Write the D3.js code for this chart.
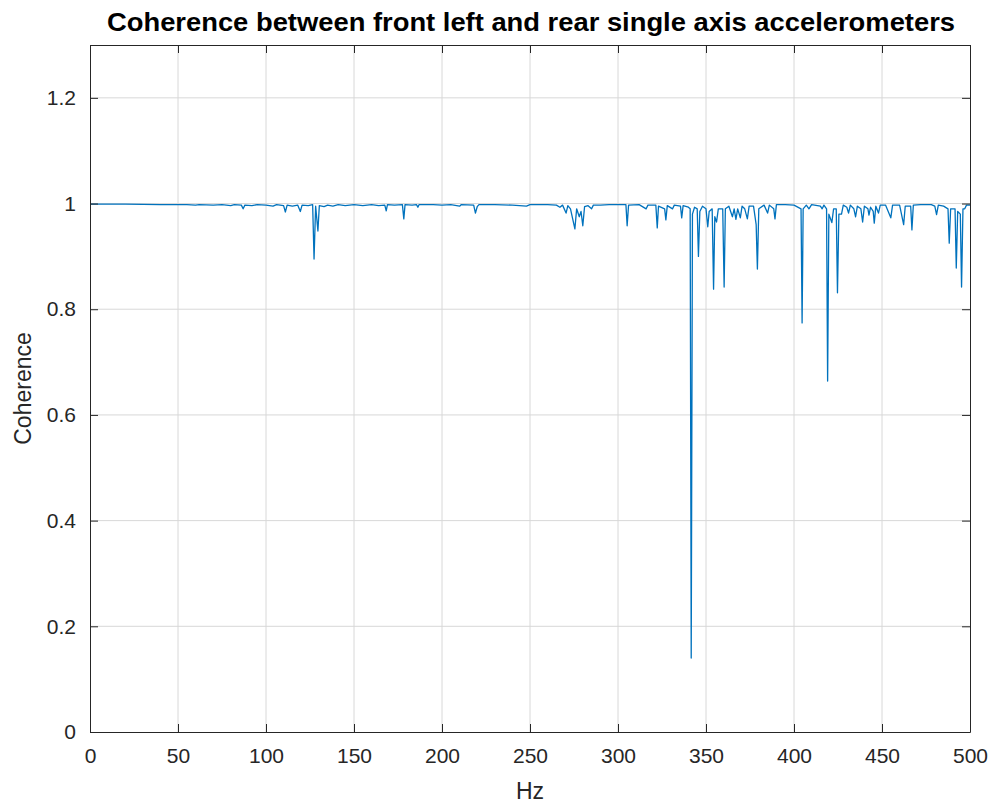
<!DOCTYPE html>
<html>
<head>
<meta charset="utf-8">
<script src="https://cdn.jsdelivr.net/npm/d3@7"></script>
<style>
  body { margin: 0; background: #fff; }
  text { font-family: "Liberation Sans", Arial, sans-serif; }
</style>
</head>
<body>
<div class="canvas"></div>
<script>
// data: frequency (Hz) and coherence
const hz = [
  0, 20, 40, 55, 60, 62, 70, 75, 80, 82, 86, 87, 88, 92, 95, 100, 104, 106, 110, 111,
  112, 115, 118, 119.5, 120.5, 124, 126.5, 127.3, 128.2, 129.5, 130.3, 133, 135, 138, 141, 145, 150, 155, 160, 164,
  167.5, 168.3, 169, 173, 177.5, 178.3, 179, 183, 185.5, 186.3, 187, 195, 200, 205, 210, 211, 218, 219, 220, 221,
  230, 240, 248, 250, 260, 265, 267, 268.5, 270.5, 271.5, 273, 275.5, 276.5, 278, 279, 280, 281, 283, 285, 286,
  290, 295, 304.5, 305.2, 306, 312, 316, 317, 321.5, 322.3, 323, 326.5, 327.2, 328, 331, 332, 335.5, 336.2, 337, 340,
  341, 341.6, 342.3, 343.5, 345, 345.7, 346.5, 348, 350, 351, 351.8, 353.5, 354.3, 355, 356, 357, 359.5, 360.3, 361, 363,
  365, 366, 367, 368, 369.5, 370.5, 372, 373.5, 374.5, 377, 378.5, 379.2, 380, 383, 385, 386, 388.5, 389.2, 390, 395,
  400, 404, 404.6, 405.2, 407, 408.5, 410, 415, 416, 417, 418.5, 419.1, 419.8, 421.5, 422.5, 424, 424.7, 425.5, 427, 428,
  430, 431, 432, 434, 435, 436, 438, 439, 440, 442, 442.6, 443.5, 445, 445.6, 446.5, 448, 449, 452, 455, 456,
  460, 462.3, 463.2, 466.3, 467, 467.8, 472, 478, 480, 481, 482, 485, 487.5, 488.2, 489, 491.5, 492.2, 493, 494.5, 495.2,
  496, 497, 498, 500
];
const coherence = [
  0.999, 0.999, 0.998, 0.998, 0.997, 0.998, 0.997, 0.998, 0.996, 0.998, 0.997, 0.990, 0.997, 0.996, 0.998, 0.997, 0.995, 0.998, 0.996, 0.984,
  0.997, 0.995, 0.997, 0.985, 0.997, 0.996, 0.998, 0.895, 0.995, 0.948, 0.996, 0.994, 0.997, 0.995, 0.998, 0.996, 0.998, 0.996, 0.998, 0.996,
  0.997, 0.986, 0.998, 0.997, 0.998, 0.971, 0.998, 0.997, 0.998, 0.993, 0.998, 0.998, 0.997, 0.998, 0.995, 0.998, 0.997, 0.982, 0.994, 0.998,
  0.998, 0.997, 0.995, 0.998, 0.998, 0.997, 0.993, 0.997, 0.982, 0.996, 0.990, 0.952, 0.990, 0.975, 0.985, 0.958, 0.994, 0.996, 0.990, 0.997,
  0.997, 0.998, 0.998, 0.958, 0.997, 0.998, 0.990, 0.997, 0.997, 0.954, 0.995, 0.990, 0.969, 0.996, 0.990, 0.997, 0.995, 0.973, 0.996, 0.993,
  0.990, 0.140, 0.980, 0.993, 0.990, 0.900, 0.985, 0.995, 0.990, 0.956, 0.985, 0.990, 0.838, 0.975, 0.965, 0.990, 0.990, 0.842, 0.990, 0.995,
  0.975, 0.990, 0.970, 0.990, 0.973, 0.995, 0.990, 0.971, 0.995, 0.995, 0.960, 0.876, 0.990, 0.997, 0.982, 0.997, 0.990, 0.971, 0.998, 0.998,
  0.997, 0.990, 0.774, 0.990, 0.997, 0.990, 0.998, 0.995, 0.990, 0.997, 0.990, 0.664, 0.980, 0.964, 0.990, 0.990, 0.831, 0.980, 0.980, 0.997,
  0.993, 0.982, 0.997, 0.990, 0.975, 0.995, 0.990, 0.965, 0.995, 0.990, 0.978, 0.993, 0.985, 0.963, 0.995, 0.982, 0.997, 0.997, 0.973, 0.997,
  0.997, 0.960, 0.995, 0.995, 0.950, 0.997, 0.998, 0.998, 0.995, 0.979, 0.997, 0.995, 0.990, 0.925, 0.990, 0.990, 0.878, 0.985, 0.980, 0.842,
  0.990, 0.990, 0.997, 0.997
];
const xTicks = [0, 50, 100, 150, 200, 250, 300, 350, 400, 450, 500];
const yTicks = [0, 0.2, 0.4, 0.6, 0.8, 1, 1.2];

const data = hz.map((f, i) => ({hz: f, c: coherence[i]}));

const width = 993;
const height = 806;
const margin = {top: 45, right: 23, bottom: 74, left: 90};
const graphWidth = width - margin.left - margin.right;
const graphHeight = height - margin.top - margin.bottom;
const ink = '#262626';

const svg = d3.select('.canvas')
  .append('svg')
  .attr('width', width)
  .attr('height', height);

const graph = svg.append('g')
  .attr('transform', `translate(${margin.left},${margin.top})`);

const x = d3.scaleLinear().domain([0, 500]).range([0, graphWidth]);
const y = d3.scaleLinear().domain([0, 1.3]).range([graphHeight, 0]);

// grid
graph.append('g')
  .selectAll('line.vx')
  .data(xTicks.slice(1, -1))
  .enter().append('line')
  .attr('x1', d => x(d)).attr('x2', d => x(d))
  .attr('y1', 0).attr('y2', graphHeight)
  .attr('stroke', '#d8d8d8').attr('stroke-width', 1);

graph.append('g')
  .selectAll('line.hy')
  .data(yTicks.slice(1))
  .enter().append('line')
  .attr('x1', 0).attr('x2', graphWidth)
  .attr('y1', d => y(d)).attr('y2', d => y(d))
  .attr('stroke', '#d8d8d8').attr('stroke-width', 1);

// coherence line
const line = d3.line()
  .x(d => x(d.hz))
  .y(d => y(d.c));

graph.append('path')
  .datum(data)
  .attr('fill', 'none')
  .attr('stroke', '#0072BD')
  .attr('stroke-width', 1.3)
  .attr('stroke-linejoin', 'round')
  .attr('d', line);

// axes, ticks pointing inwards
const xAxis = d3.axisBottom(x).tickValues(xTicks).tickSizeInner(-8).tickSizeOuter(0).tickPadding(16);
const yAxis = d3.axisLeft(y).tickValues(yTicks).tickSizeInner(-8).tickSizeOuter(0).tickPadding(14)
  .tickFormat(d3.format('~g'));
const xTop = d3.axisTop(x).tickValues(xTicks).tickSizeInner(-8).tickSizeOuter(0).tickFormat('');
const yRight = d3.axisRight(y).tickValues(yTicks).tickSizeInner(-8).tickSizeOuter(0).tickFormat('');

const styleAxis = g => {
  g.select('.domain').attr('stroke', ink);
  g.selectAll('.tick line').attr('stroke', ink);
  g.selectAll('.tick text')
    .attr('fill', ink)
    .style('font-size', '21px')
    .style('font-family', '"Liberation Sans", Arial, sans-serif');
};

graph.append('g').attr('transform', `translate(0,${graphHeight})`).call(xAxis).call(styleAxis);
graph.append('g').call(yAxis).call(styleAxis);
graph.append('g').call(xTop).call(styleAxis);
graph.append('g').attr('transform', `translate(${graphWidth},0)`).call(yRight).call(styleAxis);

// labels
svg.append('text')
  .attr('x', 107)
  .attr('y', 31)
  .attr('textLength', 848)
  .attr('lengthAdjust', 'spacingAndGlyphs')
  .attr('fill', '#000')
  .style('font-size', '25px')
  .style('font-weight', 'bold')
  .text('Coherence between front left and rear single axis accelerometers');

svg.append('text')
  .attr('x', margin.left + graphWidth / 2)
  .attr('y', 799)
  .attr('text-anchor', 'middle')
  .attr('fill', ink)
  .style('font-size', '23px')
  .text('Hz');

svg.append('text')
  .attr('transform', `translate(31,${margin.top + graphHeight / 2}) rotate(-90)`)
  .attr('text-anchor', 'middle')
  .attr('fill', ink)
  .style('font-size', '23px')
  .text('Coherence');
</script>
</body>
</html>
